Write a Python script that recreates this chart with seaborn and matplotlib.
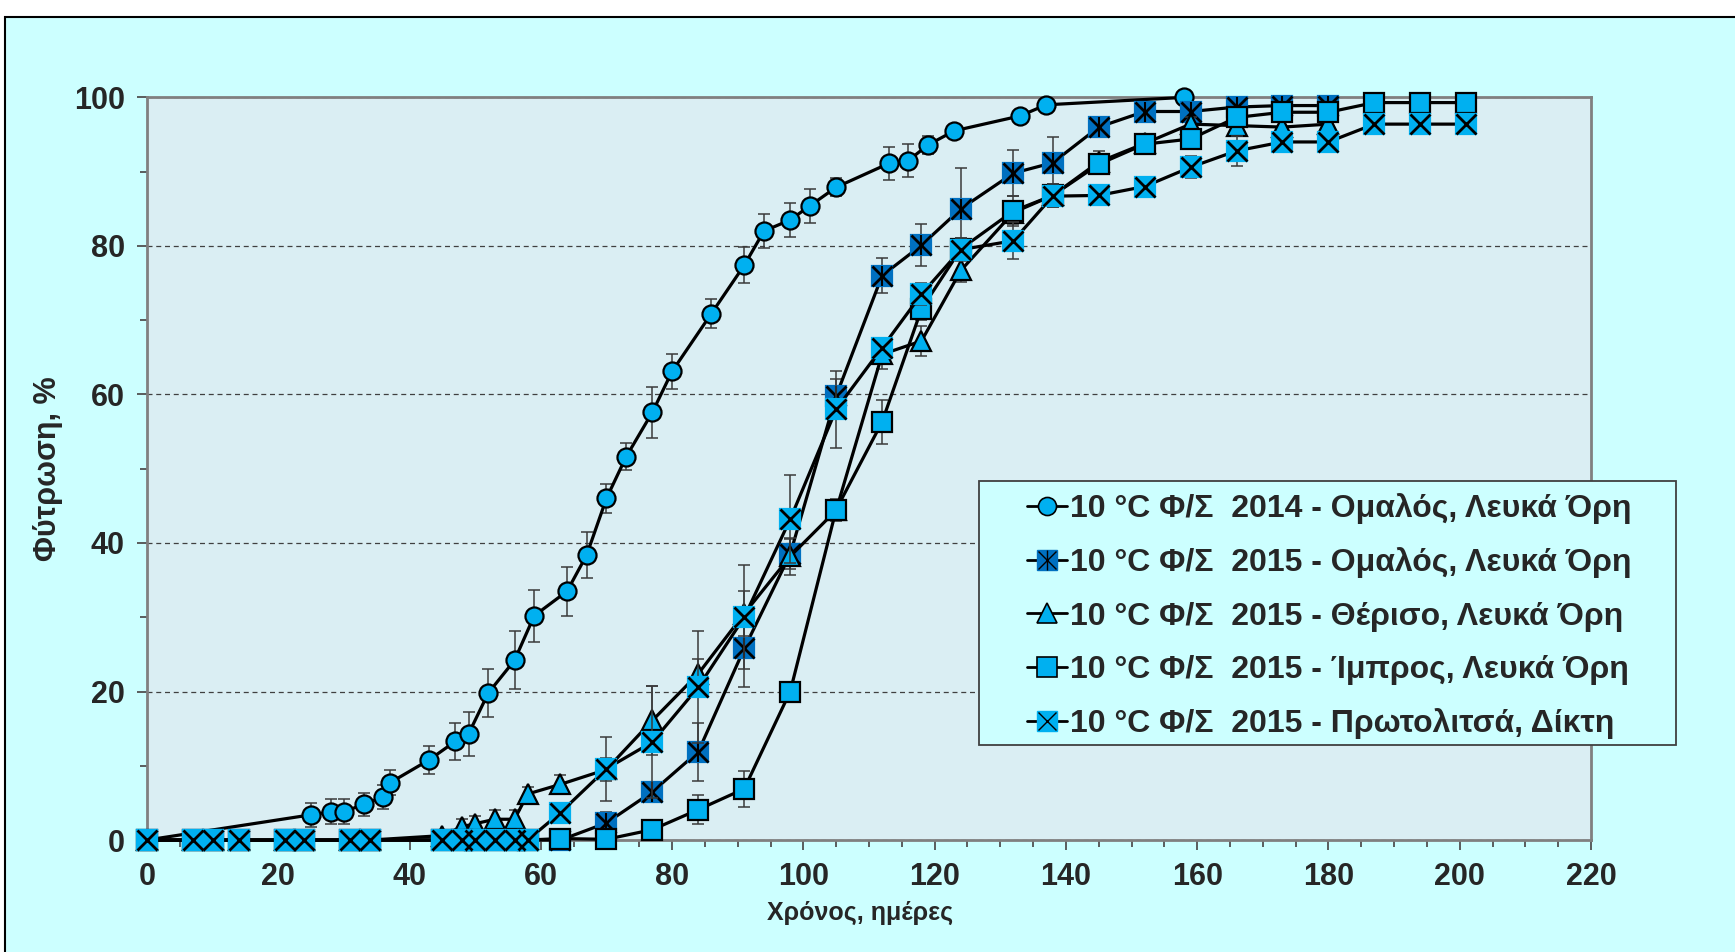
import matplotlib
matplotlib.use("Agg")
import matplotlib.pyplot as plt
from matplotlib.lines import Line2D
from matplotlib.legend_handler import HandlerTuple
from matplotlib.patches import Rectangle
from matplotlib.ticker import MultipleLocator
from matplotlib import font_manager
import seaborn as sns

# ----------------------------------------
# Data
# ----------------------------------------

days_2014 = [0, 25, 28, 30, 33, 36, 37, 43, 47, 49, 52, 56, 59, 64, 67, 70,
             73, 77, 80, 86, 91, 94, 98, 101, 105, 113, 116, 119, 123, 133,
             137, 158]
omalos_2014 = [0, 3.4, 3.8, 3.8, 4.8, 5.8, 7.7, 10.8, 13.3, 14.3, 19.8, 24.2,
               30.2, 33.5, 38.4, 46.0, 51.6, 57.6, 63.1, 70.9, 77.4, 82.0,
               83.5, 85.4, 87.9, 91.1, 91.5, 93.6, 95.5, 97.5, 99.0, 100]
omalos_2014_err = [0, 1.6, 1.7, 1.7, 1.5, 1.6, 1.7, 1.9, 2.5, 3.0, 3.2, 3.9,
                   3.5, 3.3, 3.1, 2.0, 1.8, 3.4, 2.4, 1.9, 2.4, 2.3, 2.3, 2.3,
                   1.2, 2.2, 2.2, 1.2, 0.5, 0.6, 0.3, 0]

days_2015 = [0, 7, 10, 14, 21, 24, 31, 34, 45, 48, 50, 53, 56, 58, 63, 70, 77,
             84, 91, 98, 105, 112, 118, 124, 132, 138, 145, 152, 159, 166, 173,
             180, 187, 194, 201]

# Ομαλός 2015 and Θέρισο 2015 stop at day 180
omalos_2015 = [0, 0, 0, 0, 0, 0, 0, 0, 0, 0, 0, 0, 0, 0, 0, 2.3, 6.5, 11.9,
               25.8, 38.5, 59.8, 76.0, 80.1, 85.0, 89.8, 91.2, 96.0, 98.1,
               98.1, 98.7, 98.9, 98.9]
omalos_2015_err = [0, 0, 0, 0, 0, 0, 0, 0, 0, 0, 0, 0, 0, 0, 0, 1.5, 1.2, 3.9,
                   5.2, 2.0, 2.3, 2.4, 2.8, 5.5, 3.1, 3.4, 1.0, 0.8, 0.8, 0.5,
                   0.5, 0.5]

theriso_2015 = [0, 0, 0, 0, 0, 0, 0, 0, 0.6, 1.8, 2.2, 2.8, 2.8, 6.2, 7.5,
                9.5, 16.1, 22.4, 30.5, 38.2, 44.4, 65.4, 67.2, 76.7, 84.5,
                86.8, 91.3, 93.8, 96.4, 96.2, 96.0, 96.4]
theriso_2015_err = [0, 0, 0, 0, 0, 0, 0, 0, 0.8, 1.0, 1.0, 1.2, 1.2, 1.0, 1.2,
                    1.5, 4.7, 2.0, 3.0, 2.5, 1.5, 2.0, 2.0, 1.5, 1.5, 1.5, 1.5,
                    1.0, 1.0, 1.0, 1.0, 1.0]

imbros_2015 = [0, 0, 0, 0, 0, 0, 0, 0, 0, 0, 0, 0, 0, 0, 0.2, 0.1, 1.4, 4.1,
               6.9, 20.0, 44.5, 56.3, 71.5, 79.6, 84.7, 86.8, 91.0, 93.7, 94.4,
               97.3, 98.0, 98.0, 99.3, 99.3, 99.3]
imbros_2015_err = [0, 0, 0, 0, 0, 0, 0, 0, 0, 0, 0, 0, 0, 0, 0.5, 0.5, 1.0,
                   1.9, 2.4, 1.2, 1.2, 3.0, 1.5, 1.5, 2.0, 1.5, 1.0, 1.0, 1.0,
                   1.0, 0.8, 0.8, 0.5, 0.5, 0.5]

protolitsa_2015 = [0, 0, 0, 0, 0, 0, 0, 0, 0, 0, 0, 0, 0, 0, 3.7, 9.6, 13.2,
                   20.6, 30.0, 43.2, 58.0, 66.3, 73.5, 79.5, 80.7, 86.7, 86.8,
                   88.0, 90.6, 92.8, 94.0, 94.0, 96.4, 96.4, 96.4]
protolitsa_2015_err = [0, 0, 0, 0, 0, 0, 0, 0, 0, 0, 0, 0, 0, 0, 1.2, 4.3,
                       7.5, 7.6, 7.0, 5.9, 5.2, 1.2, 1.5, 1.5, 2.5, 1.5, 1.0,
                       1.0, 1.5, 2.0, 1.0, 1.0, 0.5, 0.5, 0.5]

labels = [
    "10 °C Φ/Σ  2014 - Ομαλός, Λευκά Όρη",
    "10 °C Φ/Σ  2015 - Ομαλός, Λευκά Όρη",
    "10 °C Φ/Σ  2015 - Θέρισο, Λευκά Όρη",
    "10 °C Φ/Σ  2015 - Ίμπρος, Λευκά Όρη",
    "10 °C Φ/Σ  2015 - Πρωτολιτσά, Δίκτη",
]

LIGHT = "#00B0F0"
DARK = "#0070C0"

# ----------------------------------------
# Style
# ----------------------------------------

sns.set_style("ticks")
plt.rcParams["font.family"] = ["Liberation Sans", "DejaVu Sans"]
plt.rcParams["font.weight"] = "bold"

leg_font = font_manager.FontProperties(
    family=["Liberation Sans", "DejaVu Sans"], weight="bold", size=23)

fig = plt.figure(figsize=(17.35, 9.52), dpi=100, facecolor="white")
fig.patches.append(Rectangle((5 / 1735, -0.1), 1.2, 1.1 - 17 / 952,
                             transform=fig.transFigure, facecolor="#CCFFFF",
                             edgecolor="black", lw=1.5, zorder=-10))

ax = fig.add_axes([0.0847, 0.1176, 0.8323, 0.7801])
ax.set_facecolor("#DAEEF3")

# ----------------------------------------
# Series
# ----------------------------------------

def draw_series(days, vals, errs, marker, ms, face, edge, z):
    days = days[:len(vals)]
    ax.errorbar(days, vals, yerr=errs, fmt="none", ecolor="#3a3a3a",
                elinewidth=1.1, capsize=4, capthick=1.1, zorder=z - 0.5,
                clip_on=False)
    sns.lineplot(x=days, y=vals, ax=ax, color="black", lw=2.3, marker=marker,
                 markersize=ms, markerfacecolor=face, markeredgecolor=edge,
                 markeredgewidth=1.6, clip_on=False, zorder=z, errorbar=None,
                 legend=False)
    return days


draw_series(days_2014, omalos_2014, omalos_2014_err, "o", 13, LIGHT, "black", 3)

d = draw_series(days_2015, omalos_2015, omalos_2015_err, "s", 15, DARK, DARK, 4)
ax.plot(d, omalos_2015, ls="none", marker="x", ms=14, mew=2, color="black",
        zorder=4.1, clip_on=False)
ax.plot(d, omalos_2015, ls="none", marker="|", ms=15, mew=1.5, color="black",
        zorder=4.1, clip_on=False)

draw_series(days_2015, theriso_2015, theriso_2015_err, "^", 15, LIGHT, "black", 5)
draw_series(days_2015, imbros_2015, imbros_2015_err, "s", 14, LIGHT, "black", 6)

d = draw_series(days_2015, protolitsa_2015, protolitsa_2015_err, "s", 15,
                LIGHT, LIGHT, 7)
ax.plot(d, protolitsa_2015, ls="none", marker="x", ms=14, mew=2,
        color="black", zorder=7.1, clip_on=False)

# ----------------------------------------
# Axes
# ----------------------------------------

ax.set_xlim(0, 220)
ax.set_ylim(0, 100)
ax.xaxis.set_major_locator(MultipleLocator(20))
ax.xaxis.set_minor_locator(MultipleLocator(5))
ax.yaxis.set_major_locator(MultipleLocator(20))
ax.yaxis.set_minor_locator(MultipleLocator(10))
ax.tick_params(which="major", direction="out", length=7, width=1.3,
               color="#505050", labelsize=22, pad=9)
ax.tick_params(which="minor", direction="out", length=5, width=1.3,
               color="#505050")
for lab in ax.get_xticklabels() + ax.get_yticklabels():
    lab.set_fontweight("bold")
for s in ax.spines.values():
    s.set_color("#808080")
    s.set_linewidth(2)
ax.grid(axis="y", which="major", linestyle=(0, (4, 3)), color="#404040",
        lw=0.9)

ax.set_xlabel("Χρόνος, ημέρες", fontsize=18, fontweight="bold")
ax.set_ylabel("Φύτρωση, %", fontsize=22, fontweight="bold")
ax.xaxis.set_label_coords(0.494, -0.082)
ax.yaxis.set_label_coords(-0.058, 0.5)

# ----------------------------------------
# Legend
# ----------------------------------------

fig.patches.append(Rectangle((979 / 1735, 1 - 745 / 952), 697 / 1735,
                             264 / 952, transform=fig.transFigure,
                             facecolor="#CCFFFF", edgecolor="#404040", lw=1.3,
                             zorder=3))

handles = [
    Line2D([], [], color="black", lw=2, marker="o", ms=13, mfc=LIGHT,
           mec="black", mew=1.2),
    (Line2D([], [], color="black", lw=2, marker="s", ms=14, mfc=DARK, mec=DARK),
     Line2D([], [], ls="none", marker="x", ms=13, mew=1, color="black"),
     Line2D([], [], ls="none", marker="|", ms=14, mew=1, color="black")),
    Line2D([], [], color="black", lw=2, marker="^", ms=14, mfc=LIGHT,
           mec="black", mew=1.2),
    Line2D([], [], color="black", lw=2, marker="s", ms=14, mfc=LIGHT,
           mec="black", mew=1.2),
    (Line2D([], [], color="black", lw=2, marker="s", ms=14, mfc=LIGHT,
            mec=LIGHT),
     Line2D([], [], ls="none", marker="x", ms=13, mew=1, color="black")),
]
leg = fig.legend(handles, labels, loc="upper left",
                 bbox_to_anchor=(1027 / 1735, 1 - 493 / 952),
                 bbox_transform=fig.transFigure, frameon=False, prop=leg_font,
                 handler_map={tuple: HandlerTuple(ndivide=1)},
                 handlelength=1.25, handletextpad=0.1, labelspacing=0.73,
                 borderpad=0, borderaxespad=0)
leg.set_zorder(4)

fig.savefig("out.png", dpi=100, facecolor=fig.get_facecolor())
